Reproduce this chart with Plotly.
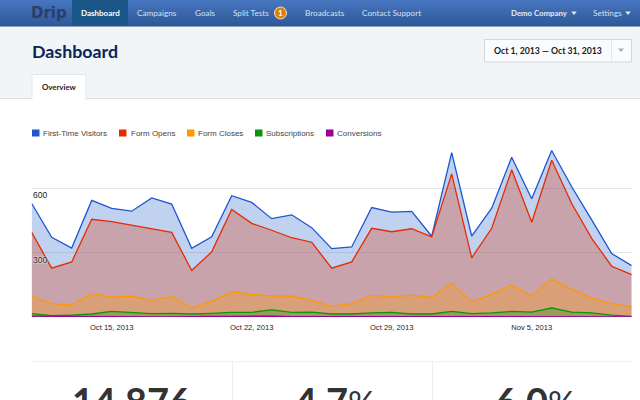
import plotly.graph_objects as go

dates = ["2013-10-11", "2013-10-12", "2013-10-13", "2013-10-14", "2013-10-15", "2013-10-16", "2013-10-17",
         "2013-10-18", "2013-10-19", "2013-10-20", "2013-10-21", "2013-10-22", "2013-10-23", "2013-10-24",
         "2013-10-25", "2013-10-26", "2013-10-27", "2013-10-28", "2013-10-29", "2013-10-30", "2013-10-31",
         "2013-11-01", "2013-11-02", "2013-11-03", "2013-11-04", "2013-11-05", "2013-11-06", "2013-11-07",
         "2013-11-08", "2013-11-09", "2013-11-10"]
visitors = [530, 372, 322, 544, 507, 494, 556, 527, 321, 374, 566, 535, 459, 477, 417, 319,
            327, 511, 490, 493, 377, 767, 378, 508, 746, 552, 777, 608, 453, 296, 240]
form_opens = [395, 228, 257, 456, 445, 429, 414, 395, 217, 304, 502, 437, 405, 370, 349, 228,
              257, 414, 398, 412, 374, 668, 276, 414, 687, 442, 732, 530, 367, 237, 198]
form_closes = [98, 62, 56, 110, 93, 98, 78, 96, 43, 74, 118, 105, 98, 98, 78, 51,
               62, 102, 93, 102, 91, 158, 70, 107, 149, 98, 178, 130, 88, 62, 47]
subscriptions = [16, 6, 9, 14, 26, 20, 16, 17, 14, 17, 22, 22, 33, 22, 23, 14,
                 14, 19, 22, 14, 14, 26, 16, 19, 26, 23, 42, 23, 19, 9, 3]
conversions = [4, 3, 2, 3, 3, 2, 1, 1, 3, 3, 3, 4, 4, 2, 2, 3,
               3, 3, 2, 2, 3, 3, 3, 3, 3, 3, 3, 2, 3, 2, 1]

series_names = ["First-Time Visitors", "Form Opens", "Form Closes", "Subscriptions", "Conversions"]
series_values = [visitors, form_opens, form_closes, subscriptions, conversions]
series_colors = ["#1d56d0", "#e52b00", "#ff9900", "#0a960f", "#990099"]
series_fills = ["rgba(51,102,204,0.3)", "rgba(220,57,18,0.3)", "rgba(255,153,0,0.3)",
                "rgba(16,150,24,0.3)", "rgba(153,0,153,0.3)"]
legend_swatch_x = [32, 119, 187, 255, 326]
legend_text_x = [43, 130.5, 198, 266, 337]

x_ticks = ["2013-10-15", "2013-10-22", "2013-10-29", "2013-11-05"]
x_labels = ["Oct 15, 2013", "Oct 22, 2013", "Oct 29, 2013", "Nov 5, 2013"]

nav_items = [("Campaigns", 157), ("Goals", 205.5), ("Split Tests", 251), ("Broadcasts", 325), ("Contact Support", 391.5)]
nav_shades = ["#4675bf", "#4472bc", "#4270b9", "#406db5", "#3e6bb2", "#3c68ae", "#3a66ab", "#3864a8",
              "#3662a5", "#3460a2", "#335e9f", "#315c9c", "#2f5a99"]

W, H = 640, 400
UI = "Lato"


def px(x):
    return x / W


def py(y):
    return 1 - y / H


shapes = []
notes = []


def rect(x0, y0, x1, y1, fill, line=None):
    shapes.append(dict(type="rect", xref="paper", yref="paper", layer="below",
                       x0=px(x0), x1=px(x1), y0=py(y0), y1=py(y1), fillcolor=fill,
                       line=dict(color=line or fill, width=1 if line else 0)))


def tri(cx, cy, size, fill):
    path = f"M {px(cx - size)} {py(cy - size / 2)} L {px(cx + size)} {py(cy - size / 2)} L {px(cx)} {py(cy + size / 2 + 0.5)} Z"
    shapes.append(dict(type="path", xref="paper", yref="paper", layer="below", path=path,
                       fillcolor=fill, line=dict(width=0)))


def text(x, y, s, size, color, anchor="center", family=UI):
    # left anchored annotations carry about 2px of padding
    if anchor == "left":
        x -= 2
    notes.append(dict(x=px(x), y=py(y), xref="paper", yref="paper", text=s, showarrow=False,
                      xanchor=anchor, yanchor="middle", align=anchor,
                      font=dict(family=family, size=size, color=color)))


# page background and nav bar
rect(0, 27, W, 98, "#f2f5f7")
rect(0, 98, W, 99, "#dcdfe1")
for i, shade in enumerate(nav_shades):
    rect(0, i * 2, W, i * 2 + 2, shade)
rect(0, 26, W, 27, "#8fa3bd")
rect(72, 0, 128, 26, "#1b5688")

text(31, 13, "<b>Drip</b>", 15, "#2a3f66", "left", "DejaVu Sans")
text(100.5, 13, "<b>Dashboard</b>", 8, "#ffffff")
for label, cx in nav_items:
    text(cx, 13, label, 8.2, "#d5e0f0")
shapes.append(dict(type="circle", xref="paper", yref="paper", layer="below", x0=px(274.5), x1=px(286.5),
                   y0=py(19), y1=py(7), fillcolor="#d9820f", line=dict(color="#f4e3c8", width=1)))
text(280.5, 13, "<b>1</b>", 8, "#ffffff")
text(539, 13, "<b>Demo Company</b>", 7.8, "#e4ebf6")
tri(574, 13, 2.8, "#dfe7f3")
text(607.5, 13, "Settings", 8.2, "#d5e0f0")
tri(628, 13, 2.8, "#dfe7f3")

# title, tab, date picker
text(32, 51, "<b>Dashboard</b>", 17.8, "#0c2455", "left")
rect(32, 74.5, 86, 100, "#ffffff", "#e3e6e8")
rect(32.5, 97, 85.5, 101, "#ffffff")
text(59, 87, "<b>Overview</b>", 7.8, "#222222")
rect(484.5, 39.5, 631.5, 62, "#fafbfc", "#d3d7da")
rect(611, 40, 611.6, 62, "#d8dbde")
text(548, 50, "<b>Oct 1, 2013 — Oct 31, 2013</b>", 8.7, "#1a1a1a")
tri(621, 50, 3, "#a8abae")

# legend
for name, sx, tx, color in zip(series_names, legend_swatch_x, legend_text_x, series_colors):
    rect(sx, 129.5, sx + 7.5, 136.5, color)
    text(tx, 133, name, 8, "#444444", "left", "Liberation Sans")

# bottom stats
rect(32, 361, 632, 361.6, "#e2e2e2")
rect(232, 361, 232.6, 400, "#e2e2e2")
rect(432, 361, 432.6, 400, "#e2e2e2")
text(131, 401, "<b>14,876</b>", 38, "#333333")
text(335, 401, '<b>4.7</b><span style="font-size:34px">%</span>', 38, "#333333")
text(535, 401, '<b>6.0</b><span style="font-size:34px">%</span>', 38, "#333333")

# y labels sit just under their gridlines
for v in [300, 600]:
    notes.append(dict(x=dates[0], y=v, xref="x", yref="y", text=str(v), showarrow=False, xanchor="left",
                      yanchor="middle", xshift=-1, yshift=-7,
                      font=dict(family="Liberation Sans", size=8.5, color="#222222",
                                shadow="0 0 2px #ffffff, 0 0 2px #ffffff")))

fig = go.Figure()
for name, values, color, fill in zip(series_names, series_values, series_colors, series_fills):
    fig.add_trace(go.Scatter(x=dates, y=values, name=name, mode="lines", fill="tozeroy",
                             fillcolor=fill, line=dict(color=color, width=1.3)))

fig.update_layout(
    width=W, height=H, margin=dict(l=0, r=0, t=0, b=0), showlegend=False,
    paper_bgcolor="#ffffff", plot_bgcolor="rgba(0,0,0,0)",
    shapes=shapes, annotations=notes,
    xaxis=dict(domain=[px(31.7), px(631.7)], range=[dates[0], dates[-1]], showgrid=False, zeroline=False,
               tickmode="array", tickvals=x_ticks, ticktext=x_labels, ticks="outside", ticklen=3,
               tickcolor="rgba(0,0,0,0)", showline=False,
               tickfont=dict(family="Liberation Sans", size=7.6, color="#222222")),
    yaxis=dict(domain=[py(317), py(124.2)], range=[0, 900], tickmode="array", tickvals=[0, 300, 600, 900],
               showticklabels=False, ticks="", gridcolor="#e6e6e6", gridwidth=1, zeroline=False),
)

fig.write_html("out.html", config={"displayModeBar": False}, post_script="document.body.style.margin='0';")
